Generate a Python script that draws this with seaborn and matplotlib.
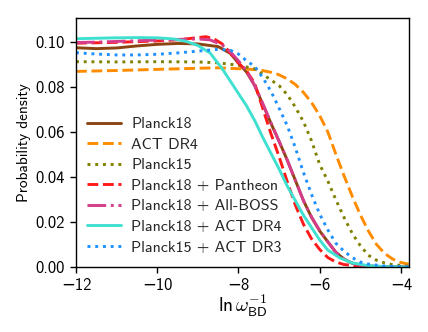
import numpy as np
import pandas as pd
import matplotlib
matplotlib.use("Agg")
import matplotlib.pyplot as plt
import seaborn as sns

# --- data (x = ln w_BD^-1, y = probability density) ---
x_planck18 = [-12, -11.5, -11, -10.5, -10, -9.5, -9, -8.5, -8.2, -8.0, -7.8, -7.6, -7.4, -7.2,
              -7.0, -6.8, -6.6, -6.4, -6.2, -6.0, -5.8, -5.6, -5.4, -5.2, -5.0, -4.6, -4.2, -3.8]
y_planck18 = [0.0973, 0.0969, 0.0972, 0.0981, 0.0988, 0.0992, 0.0990, 0.0978, 0.0948, 0.0905,
              0.0865, 0.0805, 0.0722, 0.0638, 0.0558, 0.0475, 0.0385, 0.0295, 0.0220, 0.0160,
              0.0112, 0.0065, 0.0035, 0.0017, 0.0008, 0.0002, 0.0001, 0.0]

x_actdr4 = [-12, -11, -10, -9, -8.5, -8.0, -7.5, -7.2, -7.0, -6.8, -6.6, -6.4, -6.2, -6.0,
            -5.8, -5.6, -5.4, -5.2, -5.0, -4.8, -4.6, -4.4, -4.2, -4.0, -3.8]
y_actdr4 = [0.0868, 0.0872, 0.0877, 0.0882, 0.0884, 0.0880, 0.0875, 0.0864, 0.0853, 0.0835,
            0.0810, 0.0775, 0.0730, 0.0672, 0.0600, 0.0500, 0.0405, 0.0315, 0.0232, 0.0160,
            0.0100, 0.0060, 0.0035, 0.0020, 0.0012]

x_planck15 = [-12, -11, -10, -9, -8.5, -8.0, -7.6, -7.2, -7.0, -6.8, -6.6, -6.4, -6.2, -6.0,
              -5.8, -5.6, -5.4, -5.2, -5.0, -4.8, -4.6, -4.4, -4.2, -3.8]
y_planck15 = [0.0911, 0.0910, 0.0911, 0.0910, 0.0906, 0.0895, 0.0880, 0.0830, 0.0805, 0.0765,
              0.0710, 0.0645, 0.0560, 0.0455, 0.0382, 0.0298, 0.0220, 0.0150, 0.0095, 0.0052,
              0.0030, 0.0018, 0.0010, 0.0003]

x_pantheon = [-12, -11, -10, -9.5, -9, -8.8, -8.6, -8.4, -8.2, -8.0, -7.8, -7.6, -7.4, -7.2,
              -7.0, -6.8, -6.6, -6.4, -6.2, -6.0, -5.8, -5.6, -5.4, -5.0, -4.5, -3.8]
y_pantheon = [0.0993, 0.0997, 0.1003, 0.1008, 0.1018, 0.1022, 0.1012, 0.0990, 0.0950, 0.0905,
              0.0870, 0.0815, 0.0703, 0.0592, 0.0490, 0.0380, 0.0275, 0.0190, 0.0125, 0.0078,
              0.0042, 0.0022, 0.0011, 0.0003, 0.0001, 0.0]

x_allboss = [-12, -11.5, -11, -10.5, -10, -9.5, -9, -8.7, -8.4, -8.2, -8.0, -7.8, -7.6, -7.4,
             -7.2, -7.0, -6.8, -6.6, -6.4, -6.2, -6.0, -5.8, -5.6, -5.4, -5.2, -5.0, -4.6, -4.2, -3.8]
y_allboss = [0.0996, 0.0998, 0.1001, 0.1004, 0.1007, 0.1010, 0.1012, 0.1008, 0.0985, 0.0955,
             0.0915, 0.0870, 0.0805, 0.0725, 0.0640, 0.0558, 0.0475, 0.0385, 0.0295, 0.0222,
             0.0162, 0.0112, 0.0065, 0.0035, 0.0017, 0.0008, 0.0002, 0.0001, 0.0]

x_p18act = [-12, -11, -10.5, -10, -9.6, -9.3, -9.0, -8.7, -8.4, -8.2, -8.0, -7.8, -7.6, -7.4,
            -7.2, -7.0, -6.8, -6.6, -6.4, -6.2, -6.0, -5.8, -5.5, -5.2, -4.8, -4.4, -3.8]
y_p18act = [0.1013, 0.1017, 0.1018, 0.1017, 0.1012, 0.1002, 0.0983, 0.0950, 0.0880, 0.0825,
            0.0770, 0.0715, 0.0650, 0.0575, 0.0505, 0.0435, 0.0360, 0.0295, 0.0230, 0.0175,
            0.0120, 0.0075, 0.0040, 0.0018, 0.0006, 0.0002, 0.0]

x_p15act = [-12, -11.5, -11, -10.5, -10, -9.5, -9, -8.5, -8.2, -8.0, -7.8, -7.6, -7.4, -7.2,
            -7.0, -6.8, -6.6, -6.4, -6.2, -6.0, -5.8, -5.6, -5.4, -5.2, -5.0, -4.8, -4.4, -3.8]
y_p15act = [0.0951, 0.0945, 0.0941, 0.0941, 0.0944, 0.0950, 0.0958, 0.0966, 0.0962, 0.0945,
            0.0915, 0.0890, 0.0840, 0.0780, 0.0705, 0.0628, 0.0530, 0.0420, 0.0322, 0.0235,
            0.0165, 0.0105, 0.0070, 0.0042, 0.0022, 0.0013, 0.0004, 0.0]

labels = ['Planck18', 'ACT DR4', 'Planck15', 'Planck18 + Pantheon',
          'Planck18 + All-BOSS', 'Planck18 + ACT DR4', 'Planck15 + ACT DR3']
xs = [x_planck18, x_actdr4, x_planck15, x_pantheon, x_allboss, x_p18act, x_p15act]
ys = [y_planck18, y_actdr4, y_planck15, y_pantheon, y_allboss, y_p18act, y_p15act]
colors = ['#8B4513', '#FF8C00', '#808000', '#FF1A1A', '#D63C8C', '#40E0D0', '#1E90FF']
styles = ['-', '--', ':', '--', '-.', '-', ':']

# --- style ---
sns.set_style("ticks")
plt.rcParams['font.family'] = ['cmss10', 'DejaVu Sans']
plt.rcParams['mathtext.fontset'] = 'cm'
plt.rcParams['axes.edgecolor'] = 'black'
plt.rcParams['axes.linewidth'] = 1.0
plt.rcParams['xtick.color'] = 'black'
plt.rcParams['ytick.color'] = 'black'

fig = plt.figure(figsize=(4.28, 3.32), dpi=100)
ax = fig.add_axes([0.1776, 0.1958, 0.7780, 0.7500])

for x, y, lab, c, ls in zip(xs, ys, labels, colors, styles):
    sns.lineplot(x=x, y=y, ax=ax, color=c, linestyle=ls, linewidth=2.1, label=lab)

ax.set_xlim(-12, -3.8)
ax.set_ylim(0, 0.1105)
ax.set_xticks([-12, -10, -8, -6, -4])
ax.set_yticks([0.0, 0.02, 0.04, 0.06, 0.08, 0.10])
ax.yaxis.set_major_formatter(matplotlib.ticker.FormatStrFormatter('%.2f'))
ax.tick_params(labelsize=12, length=4.5, width=1, colors='black')

ax.set_ylabel('Probability density', fontsize=11, color='black', labelpad=3)
ax.set_xlabel(r'$\mathsf{ln}\,\omega_{\mathsf{BD}}^{-1}$', fontsize=14, color='black', labelpad=0)

ax.legend(loc='lower left', bbox_to_anchor=(0.0, 0.005), frameon=False, fontsize=11.5,
          handlelength=2.1, labelspacing=0.4, borderaxespad=0.3, handletextpad=0.65)

fig.savefig('out.png', dpi=100)
